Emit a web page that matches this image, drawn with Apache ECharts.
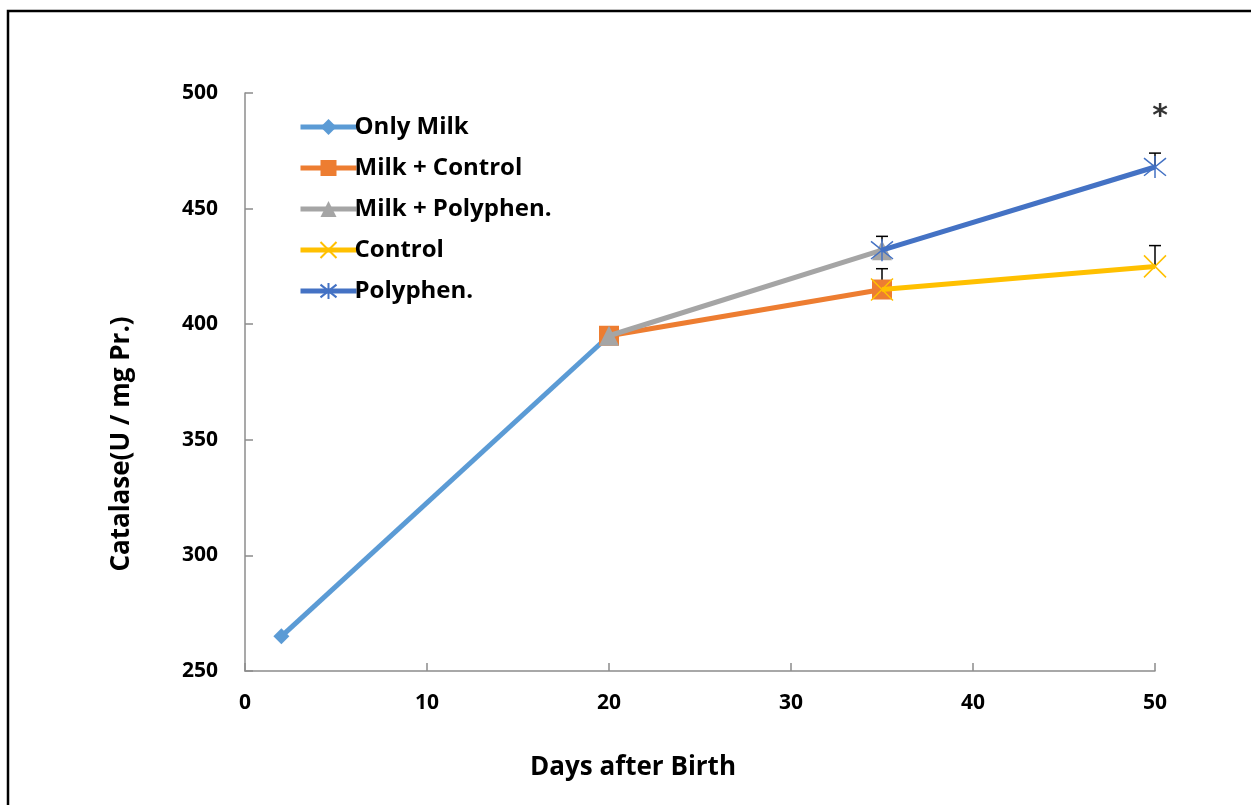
<!DOCTYPE html>
<html>
<head>
<meta charset="utf-8">
<script src="https://cdn.jsdelivr.net/npm/echarts@6/dist/echarts.min.js"></script>
<style>
html,body{margin:0;padding:0;background:#fff;}
#chart{width:1251px;height:805px;}
</style>
</head>
<body>
<div id="chart"></div>
<script>
// Data
const seriesNames = ['Only Milk', 'Milk + Control', 'Milk + Polyphen.', 'Control', 'Polyphen.'];
const onlyMilk = [[2, 265], [20, 395]];
const milkControl = [[20, 395], [35, 415]];
const milkPolyphen = [[20, 395], [35, 432]];
const control = [[35, 415], [50, 425]];
const polyphen = [[35, 432], [50, 468]];
// error bars: [x, value, upper error]
const errorBars = [[35, 432, 6], [35, 415, 9], [50, 468, 6], [50, 425, 9]];
// significance marker
const significance = [[50, 492, '*']];
const xTicks = [0, 10, 20, 30, 40, 50];
const yTicks = [250, 300, 350, 400, 450, 500];

const FONT = '"Open Sans"';
const colors = ['#5B9BD5', '#ED7D31', '#A5A5A5', '#FFC000', '#4472C4'];
const symbols = [
  'diamond',
  'rect',
  'triangle',
  'path://M0,0L10,10M10,0L0,10',
  'path://M5,0L5,10M0,1L10,9M10,1L0,9'
];
const symbolSizes = [16, 20, 20, 22, 22];
const datasets = [onlyMilk, milkControl, milkPolyphen, control, polyphen];

const lineSeries = seriesNames.map((name, i) => {
  const stroked = i >= 3;
  return {
    name: name,
    type: 'line',
    data: datasets[i],
    symbol: symbols[i],
    symbolSize: symbolSizes[i],
    showAllSymbol: true,
    lineStyle: { color: colors[i], width: 5 },
    itemStyle: stroked
      ? { color: 'rgba(0,0,0,0)', borderColor: colors[i], borderWidth: 1.5 }
      : { color: colors[i], borderWidth: 0 },
    emphasis: { disabled: true },
    z: 2 + i
  };
});

const chart = echarts.init(document.getElementById('chart'), null, { renderer: 'canvas' });
chart.setOption({
  animation: false,
  backgroundColor: '#fff',
  graphic: [{
    type: 'rect',
    shape: { x: 8, y: 11, width: 1400, height: 1000 },
    style: { fill: 'none', stroke: '#000', lineWidth: 2.5 },
    z: 100
  }],
  grid: { left: 245, right: 96, top: 93, bottom: 134, containLabel: false },
  legend: {
    data: seriesNames,
    orient: 'vertical',
    left: 293,
    top: 110,
    itemWidth: 56,
    itemHeight: 20,
    itemGap: 17,
    lineStyle: { width: 5 },
    textStyle: { fontFamily: FONT, fontWeight: 'bold', fontSize: 24, color: '#000', lineHeight: 24, padding: [0, 0, 0, -7] },
    selectedMode: false
  },
  xAxis: {
    type: 'value',
    min: 0, max: 50, interval: 10,
    name: 'Days after Birth',
    nameLocation: 'middle',
    nameGap: 84,
    nameTextStyle: { fontFamily: FONT, fontWeight: 'bold', fontSize: 26, color: '#000', padding: [0, 134, 0, 0] },
    axisLine: { onZero: false, lineStyle: { color: '#8c8c8c', width: 1.5 } },
    axisTick: { inside: true, length: 8, lineStyle: { color: '#8c8c8c', width: 1.5 } },
    axisLabel: { fontFamily: FONT, fontWeight: 'bold', fontSize: 21, color: '#000', margin: 22,
      formatter: v => xTicks.includes(v) ? String(v) : '' },
    splitLine: { show: false }
  },
  yAxis: {
    type: 'value',
    min: 250, max: 500, interval: 50,
    name: 'Catalase(U / mg Pr.)',
    nameLocation: 'middle',
    nameGap: 110,
    nameTextStyle: { fontFamily: FONT, fontWeight: 'bold', fontSize: 26, color: '#000', padding: [0, 124, 0, 0] },
    axisLine: { show: true, lineStyle: { color: '#8c8c8c', width: 1.5 } },
    axisTick: { show: true, inside: true, length: 8, lineStyle: { color: '#8c8c8c', width: 1.5 } },
    axisLabel: { fontFamily: FONT, fontWeight: 'bold', fontSize: 21, color: '#000', margin: 27,
      formatter: v => yTicks.includes(v) ? String(v) : '' },
    splitLine: { show: false }
  },
  series: lineSeries.concat([
    {
      name: 'errors',
      type: 'custom',
      data: errorBars,
      z: 1,
      renderItem: function (params, api) {
        const x = api.value(0), v = api.value(1), e = api.value(2);
        const p0 = api.coord([x, v]);
        const p1 = api.coord([x, v + e]);
        return {
          type: 'group',
          children: [
            { type: 'line', shape: { x1: p0[0], y1: p0[1], x2: p1[0], y2: p1[1] }, style: { stroke: '#000', lineWidth: 1.5 } },
            { type: 'line', shape: { x1: p1[0] - 6, y1: p1[1], x2: p1[0] + 6, y2: p1[1] }, style: { stroke: '#000', lineWidth: 1.5 } }
          ]
        };
      }
    },
    {
      name: 'sig',
      type: 'scatter',
      data: significance,
      symbolSize: 1,
      itemStyle: { color: 'rgba(0,0,0,0)' },
      label: { show: true, position: 'inside', offset: [5, 6], formatter: p => p.data[2],
        fontFamily: 'DejaVu Sans', fontWeight: 'bold', fontSize: 30, color: '#000' },
      emphasis: { disabled: true },
      z: 20
    }
  ])
});
</script>
</body>
</html>
